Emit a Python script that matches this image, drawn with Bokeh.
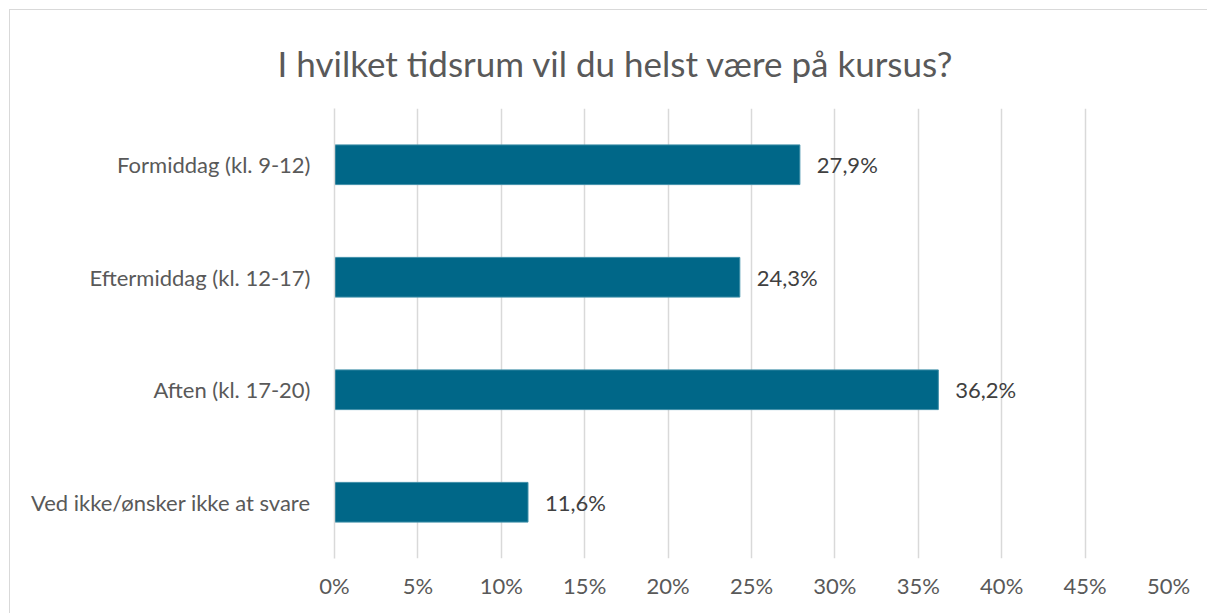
from bokeh.plotting import figure
from bokeh.models import ColumnDataSource, LabelSet, Title, FixedTicker, FactorRange, Range1d
from bokeh.embed import file_html
from bokeh.resources import INLINE
from bokeh.core.properties import value

title_text = "I hvilket tidsrum vil du helst være på kursus?"
categories = ["Formiddag (kl. 9-12)", "Eftermiddag (kl. 12-17)", "Aften (kl. 17-20)", "Ved ikke/ønsker ikke at svare"]
shares = [27.9, 24.3, 36.2, 11.6]
share_labels = ["27,9%", "24,3%", "36,2%", "11,6%"]
x_ticks = [0, 5, 10, 15, 20, 25, 30, 35, 40, 45, 50]
x_tick_labels = ["0%", "5%", "10%", "15%", "20%", "25%", "30%", "35%", "40%", "45%", "50%"]

FONT = "Lato"
GRAY = "#595959"

src = ColumnDataSource(dict(cat=categories, val=shares, lab=share_labels))

p = figure(width=1198, height=604, output_backend="svg", toolbar_location=None,
           y_range=FactorRange(*reversed(categories)), x_range=Range1d(0, 50),
           min_border_left=324, min_border_right=40, min_border_top=98, min_border_bottom=56)
p.styles = {"margin-left": "9px", "margin-top": "9px",
            "border-left": "1px solid #d9d9d9", "border-top": "1px solid #d9d9d9"}

p.hbar(y="cat", right="val", left=0, height=0.353, source=src, fill_color="#006788", line_color="#3f8fa8", line_width=1)

labels = LabelSet(x="val", y="cat", text="lab", source=src, x_offset=17, text_baseline="middle",
                  text_font=value(FONT), text_font_size="22px", text_color="#404040")
p.add_layout(labels)

p.outline_line_color = None
p.ygrid.grid_line_color = None
p.xgrid.grid_line_color = "#d9d9d9"
p.xgrid.grid_line_width = 1.5
p.xaxis.ticker = FixedTicker(ticks=x_ticks)
p.xaxis.major_label_overrides = {t: l for t, l in zip(x_ticks, x_tick_labels)}
p.xaxis.axis_line_color = None
p.xaxis.major_tick_line_color = None
p.xaxis.minor_tick_line_color = None
p.xaxis.major_label_standoff = 7
p.xaxis.major_label_text_font = FONT
p.xaxis.major_label_text_font_size = "22px"
p.xaxis.major_label_text_color = GRAY

p.yaxis.axis_line_color = "#d9d9d9"
p.yaxis.axis_line_width = 1.5
p.yaxis.major_tick_line_color = None
p.yaxis.minor_tick_line_color = None
p.yaxis.major_label_standoff = 18
p.yaxis.major_label_text_font = FONT
p.yaxis.major_label_text_font_size = "22px"
p.yaxis.major_label_text_color = GRAY

t = Title(text=title_text, align="left", offset=-57, standoff=50,
          text_font=FONT, text_font_style="normal", text_font_size="35px", text_color=GRAY)
p.add_layout(t, "above")

open("out.html", "w").write(file_html(p, INLINE))
